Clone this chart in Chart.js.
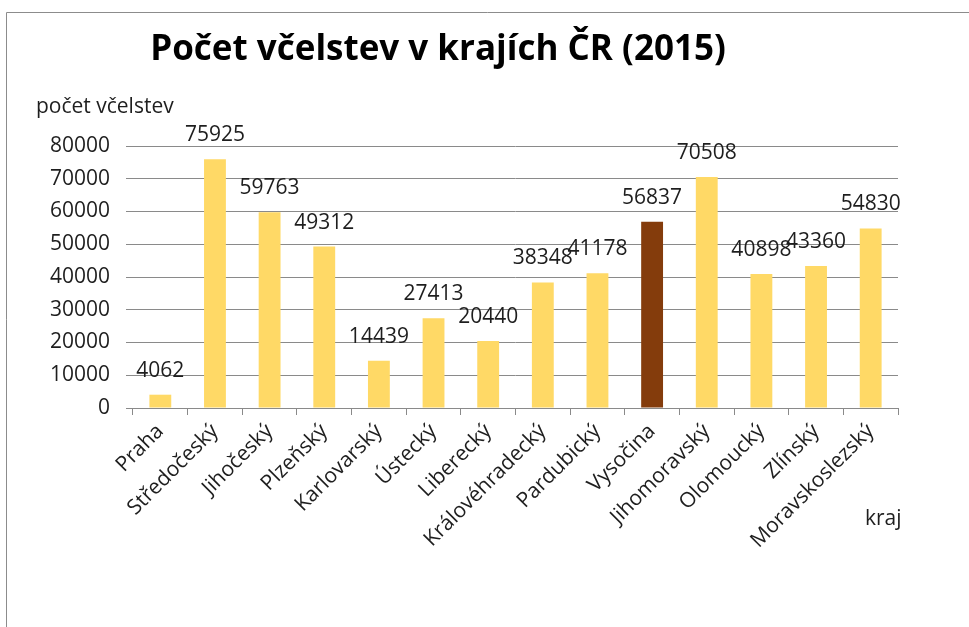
<!DOCTYPE html>
<html>
<head>
<meta charset="utf-8">
<script src="https://cdn.jsdelivr.net/npm/chart.js@4"></script>
<style>
  html, body { margin: 0; padding: 0; background: #fff; }
  #wrap { position: absolute; left: 0; top: 0; width: 969px; height: 627px; }
</style>
</head>
<body>
<div id="wrap"><canvas id="chart" width="969" height="627"></canvas></div>
<script>
//Data
const kraje = ['Praha', 'Středočeský', 'Jihočeský', 'Plzeňský', 'Karlovarský', 'Ústecký', 'Liberecký',
    'Královéhradecký', 'Pardubický', 'Vysočina', 'Jihomoravský', 'Olomoucký', 'Zlínský', 'Moravskoslezský'];
const vcelstva = [4062, 75925, 59763, 49312, 14439, 27413, 20440, 38348, 41178, 56837, 70508, 40898, 43360, 54830];
const zvyraznenyKraj = 'Vysočina';

const titleText = 'Počet včelstev v krajích ČR (2015)';
const yTitle = 'počet včelstev';
const xTitle = 'kraj';

const FONT = '"Open Sans", "Noto Sans", sans-serif';
const TEXT = '#1e1e1e';
const GRID = '#8a8a8a';
const SIZE = 21;

const barColors = kraje.map(k => k == zvyraznenyKraj ? '#843c0c' : '#ffd966');

//Frame, title and free axis titles
const decorations = {
    id: 'decorations',
    beforeDraw(chart) {
        const ctx = chart.ctx;
        ctx.save();
        ctx.strokeStyle = '#8c8c8c';
        ctx.lineWidth = 1;
        ctx.beginPath();
        ctx.moveTo(6.5, 627);
        ctx.lineTo(6.5, 12.5);
        ctx.lineTo(969, 12.5);
        ctx.stroke();
        ctx.restore();
    },
    afterDraw(chart) {
        const ctx = chart.ctx;
        ctx.save();
        ctx.fillStyle = '#000';
        ctx.textBaseline = 'alphabetic';
        ctx.textAlign = 'center';
        ctx.font = 'bold 35px ' + FONT;
        ctx.fillText(titleText, 438, 60);
        ctx.fillStyle = TEXT;
        ctx.textAlign = 'left';
        ctx.font = SIZE + 'px ' + FONT;
        ctx.fillText(yTitle, 36, 113);
        ctx.fillText(xTitle, 865, 525);
        ctx.restore();
    }
};

//Value labels above the bars
const valueLabels = {
    id: 'valueLabels',
    afterDatasetsDraw(chart) {
        const ctx = chart.ctx;
        const meta = chart.getDatasetMeta(0);
        ctx.save();
        ctx.fillStyle = TEXT;
        ctx.font = SIZE + 'px ' + FONT;
        ctx.textAlign = 'center';
        ctx.textBaseline = 'alphabetic';
        meta.data.forEach((bar, i) => {
            ctx.fillText(String(chart.data.datasets[0].data[i]), bar.x, bar.y - 18);
        });
        ctx.restore();
    }
};

const canvas = document.getElementById('chart').getContext('2d');

let config = {
    type: 'bar',
    data: {
        labels: kraje,
        datasets: [{
            data: vcelstva,
            backgroundColor: barColors,
            borderWidth: 0,
            barPercentage: 0.4,
            categoryPercentage: 1.0
        }]
    },
    options: {
        responsive: false,
        animation: false,
        layout: {
            padding: { top: 146, right: 71, bottom: 0, left: 0 }
        },
        scales: {
            x: {
                grid: {
                    offset: true,
                    drawOnChartArea: false,
                    drawTicks: true,
                    tickLength: 7,
                    color: GRID
                },
                border: { display: true, color: GRID },
                ticks: {
                    autoSkip: false,
                    minRotation: 45,
                    maxRotation: 45,
                    padding: 4,
                    color: TEXT,
                    font: { size: SIZE, family: FONT }
                },
                afterFit(scale) { scale.height = 219; }
            },
            y: {
                min: 0,
                max: 80000,
                grid: {
                    color: GRID,
                    tickLength: 7
                },
                border: { display: false },
                ticks: {
                    stepSize: 10000,
                    padding: 16,
                    color: TEXT,
                    font: { size: SIZE, family: FONT },
                    callback: v => String(v)
                },
                afterFit(scale) { scale.width = 133; }
            }
        },
        plugins: {
            legend: { display: false },
            title: { display: false },
            tooltip: { enabled: false }
        }
    },
    plugins: [decorations, valueLabels]
};

const myChart = new Chart(canvas, config);
</script>
</body>
</html>
